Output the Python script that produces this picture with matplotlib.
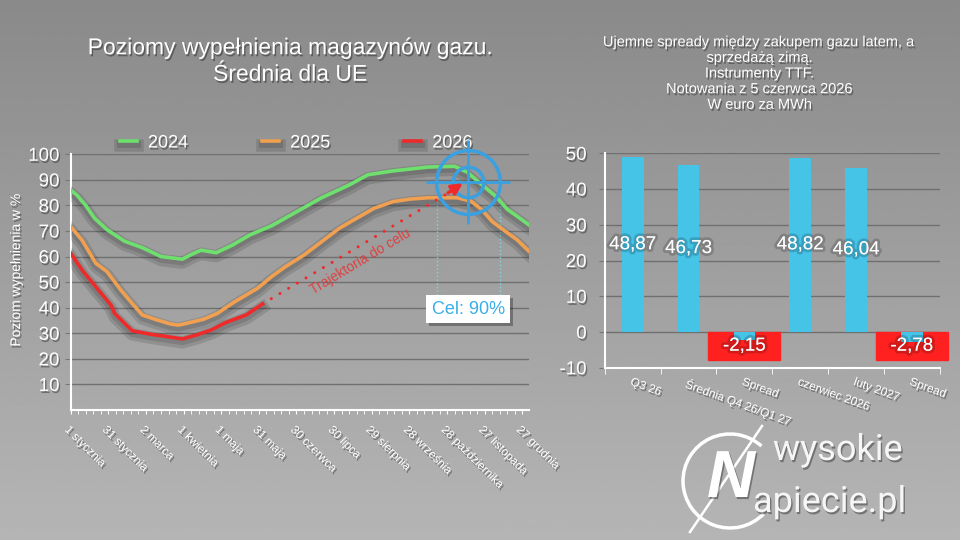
import numpy as np
import matplotlib.pyplot as plt
import matplotlib.patheffects as pe
from matplotlib.patches import Rectangle, Arc
from matplotlib.ticker import MultipleLocator, FixedLocator

plt.rcParams['font.family'] = ['Liberation Sans', 'DejaVu Sans']
plt.rcParams['axes.unicode_minus'] = False

# --- left chart: EU gas storage filling (%), day of year ---
days_2024 = [0, 5, 12, 19, 29, 43, 57, 72, 89, 97, 104, 116, 129, 143, 160, 180, 200,
             222, 237, 257, 285, 306, 316, 328, 339, 348, 356, 365]
fill_2024 = [86, 84, 80, 75, 70.5, 66, 63.5, 60, 59, 61, 62.5, 61.5, 64.5, 68.5, 72, 77.5, 83,
             88, 92, 93.5, 95, 95.3, 93, 88, 83.5, 78.5, 75.7, 72.5]

days_2025 = [0, 9, 20, 29, 40, 49, 57, 69, 80, 86, 95, 106, 117, 123, 131, 140, 149, 160, 171,
             186, 200, 214, 228, 242, 257, 271, 285, 308, 319, 328, 336, 345, 356, 365]
fill_2025 = [71.7, 66.5, 57.4, 54.1, 46.9, 41.7, 37.2, 35.2, 33.6, 33.2, 34.2, 35.5, 37.8, 39.8,
             42.4, 45, 47.6, 52.1, 56, 60.6, 65.8, 71, 75, 78.9, 81.5, 82.5, 83, 83, 81.7, 78.2,
             73.7, 70.4, 66.5, 62.2]

days_2026 = [0, 9, 20, 32, 35, 49, 63, 77, 89, 100, 112, 123, 140, 153]
fill_2026 = [61.3, 54.8, 48.2, 41.1, 37.8, 31, 29.7, 28.7, 27.8, 29.3, 31.3, 34.1, 37.2, 41.5]

tick_days = [0, 30, 60, 90, 120, 150, 180, 210, 240, 270, 300, 330, 360]
tick_labels = ['1 stycznia', '31 stycznia', '2 marca', '1 kwietnia', '1 maja', '31 maja',
               '30 czerwca', '30 lipca', '29 sierpnia', '28 września', '28 października',
               '27 listopada', '27 grudnia']

target_day, target_value = 316.5, 89.3
traj_end_day, traj_end_value = 299, 84.3
cel_lines_days = [292, 342]

# --- right chart: TTF spreads, EUR/MWh ---
bar_labels = ['Q3 26', 'Średnia Q4 26/Q1 27', 'Spread', 'czerwiec 2026', 'luty 2027', 'Spread']
bar_values = [48.87, 46.73, -2.15, 48.82, 46.04, -2.78]

shadow = [pe.withSimplePatchShadow(offset=(1, -1.5), shadow_rgbFace='black', alpha=0.35)]
GREEN, ORANGE, RED = '#6ee06e', '#f0a050', '#ee2a2a'
BLUE = '#3aa0e0'

fig = plt.figure(figsize=(9.6, 5.4), dpi=100)

bg = fig.add_axes([0, 0, 1, 1], zorder=-10)
grad = np.linspace(0.54, 0.71, 256).reshape(-1, 1)
bg.imshow(grad, cmap='gray', vmin=0, vmax=1, aspect='auto', extent=[0, 1, 0, 1], origin='upper')
bg.axis('off')

# ---------------- left chart ----------------
ax = fig.add_axes([0.0736, 0.2407, 0.477, 0.4736])
ax.set_facecolor('none')

def line_fx():
    return [pe.SimpleLineShadow(offset=(0, -2.5), shadow_color='black', alpha=0.12, linewidth=9),
            pe.SimpleLineShadow(offset=(0, -2), shadow_color='black', alpha=0.12, linewidth=5),
            pe.Normal()]

ax.plot(days_2024, fill_2024, color=GREEN, lw=2.6, label='2024', path_effects=line_fx(), zorder=4)
ax.plot(days_2025, fill_2025, color=ORANGE, lw=2.6, label='2025', path_effects=line_fx(), zorder=4)
ax.plot(days_2026, fill_2026, color=RED, lw=2.6, label='2026', path_effects=line_fx(), zorder=5)

# trajectory to target
ax.plot([days_2026[-1], traj_end_day], [fill_2026[-1], traj_end_value], color=RED,
        lw=2.2, linestyle=(0, (0.01, 3.3)), dash_capstyle='round', zorder=5)
ax.annotate('', xy=(target_day - 2, target_value), xytext=(traj_end_day, traj_end_value),
            arrowprops=dict(arrowstyle='-|>', color=RED, lw=2.5, mutation_scale=16), zorder=7)
ax.text(231, 58, 'Trajektoria do celu', color=RED, fontsize=10, rotation=31,
        ha='center', va='center', alpha=0.8)

# target symbol
for ms in (46, 22):
    ax.plot(target_day, target_value, marker='o', ms=ms, mfc='none', mec=BLUE, mew=2.5,
            clip_on=False, zorder=6)
ax.plot(target_day, target_value, marker='+', ms=60, mec=BLUE, mew=2, clip_on=False, zorder=6)

for d in cel_lines_days:
    ax.plot([d, d], [45, 83], color='#7fd8e0', lw=1, linestyle=':', zorder=3)
cel = ax.text(317, 39.5, 'Cel: 90%', color='#3aaee8', fontsize=13, ha='center', va='center',
              zorder=8, bbox=dict(boxstyle='square,pad=0.3', fc='white', ec='none'))
cel.get_bbox_patch().set_path_effects(
    [pe.SimplePatchShadow(offset=(2, -2), shadow_rgbFace='black', alpha=0.3), pe.Normal()])

ax.set_xlim(0, 365)
ax.set_ylim(0, 100)
ax.set_yticks(range(10, 101, 10))
ax.yaxis.grid(True, color='#707070', lw=1)
ax.set_axisbelow(True)
for s in ('top', 'right'):
    ax.spines[s].set_visible(False)
for s in ('left', 'bottom'):
    ax.spines[s].set_color('white')
    ax.spines[s].set_linewidth(1.5)
ax.tick_params(axis='y', colors='white', labelsize=13.5, length=4, color='#777777', pad=4)
ax.set_xticks(tick_days)
ax.set_xticklabels(tick_labels, rotation=-45, ha='left', va='top', rotation_mode='anchor',
                   fontsize=8.5, color='white')
ax.xaxis.set_minor_locator(MultipleLocator(6))
ax.tick_params(axis='x', which='both', color='white', length=3, pad=7)
for t in ax.get_xticklabels() + ax.get_yticklabels():
    t.set_path_effects(shadow)

leg = ax.legend(ncol=3, loc='center left', bbox_to_anchor=(120 / 960, 1 - 143 / 540),
                bbox_transform=fig.transFigure, frameon=False, fontsize=13, handlelength=0.95,
                handletextpad=0.6, columnspacing=4.1, borderpad=0, borderaxespad=0)
for t in leg.get_texts():
    t.set_color('white')
    t.set_path_effects(shadow)

fig.text(16 / 960, 1 - 270 / 540, 'Poziom wypełnienia w %', rotation=90, color='white',
         fontsize=10, ha='center', va='center', path_effects=shadow)
fig.text(290 / 960, 1 - 61 / 540, 'Poziomy wypełnienia magazynów gazu.\nŚrednia dla UE',
         color='white', fontsize=16.5, ha='center', va='center', linespacing=1.2,
         path_effects=shadow)

# ---------------- right chart ----------------
ax2 = fig.add_axes([0.630, 0.319, 0.349, 0.397])
ax2.set_facecolor('none')
x = np.arange(len(bar_values))
for i, (lab, v) in enumerate(zip(bar_labels, bar_values)):
    if lab == 'Spread':
        ax2.add_patch(Rectangle((i - 0.645, 0), 1.29, -7.9, color='#ff2020', zorder=2,
                                clip_on=False))
ax2.bar(x, bar_values, width=0.39, color='#45c4e8', zorder=3)
for i, v in enumerate(bar_values):
    y = v / 2 if v > 0 else -3.95
    ax2.text(i, y, f'{v:.2f}'.replace('.', ','), color='white', fontsize=13.5, ha='center',
             va='center', zorder=5,
             path_effects=[pe.withStroke(linewidth=4, foreground=(0, 0, 0, 0.18))])

ax2.set_xlim(-0.5, 5.5)
ax2.set_ylim(-10, 50)
ax2.set_yticks(range(-10, 51, 10))
ax2.yaxis.grid(True, color='#707070', lw=1)
ax2.set_axisbelow(True)
for s in ('top', 'right'):
    ax2.spines[s].set_visible(False)
for s in ('left', 'bottom'):
    ax2.spines[s].set_color('white')
    ax2.spines[s].set_linewidth(1.5)
ax2.tick_params(axis='y', colors='white', labelsize=13.5, length=4, color='#777777', pad=9)
ax2.set_xticks(x)
ax2.set_xticklabels(bar_labels, rotation=-20, ha='left', va='top', rotation_mode='anchor',
                    fontsize=8.5, color='white')
ax2.xaxis.set_minor_locator(FixedLocator(np.arange(-0.5, 6, 1)))
ax2.tick_params(axis='x', which='major', length=0, pad=6)
ax2.tick_params(axis='x', which='minor', length=4, color='white')
for t in ax2.get_xticklabels() + ax2.get_yticklabels():
    t.set_path_effects(shadow)

fig.text(760 / 960, 1 - 73.5 / 540,
         'Ujemne spready między zakupem gazu latem, a\nsprzedażą zimą.\nInstrumenty TTF.\n'
         'Notowania z 5 czerwca 2026\nW euro za MWh',
         color='white', fontsize=10.5, ha='center', va='center', linespacing=1.15,
         path_effects=shadow)

# ---------------- logo ----------------
lg = fig.add_axes([0, 0, 1, 1])
lg.set_xlim(0, 960)
lg.set_ylim(0, 540)
lg.axis('off')
lg.add_patch(Arc((730, 540 - 481), 94, 94, theta1=48, theta2=316, color='white', lw=2.5))
lg.plot([762, 690], [540 - 426, 540 - 532], color='white', lw=1.8)
lg.text(731, 540 - 480, 'N', color='white', fontsize=48, fontweight='bold', style='italic',
        ha='center', va='center', path_effects=shadow)
lg.text(773, 540 - 460, 'wysokie', color='#f6f6f6', fontsize=26, family='Roboto',
        ha='left', va='baseline', path_effects=shadow)
lg.text(753, 540 - 512, 'apiecie.pl', color='#f6f6f6', fontsize=26, family='Roboto',
        ha='left', va='baseline', path_effects=shadow)

fig.savefig('out.png', dpi=100)
